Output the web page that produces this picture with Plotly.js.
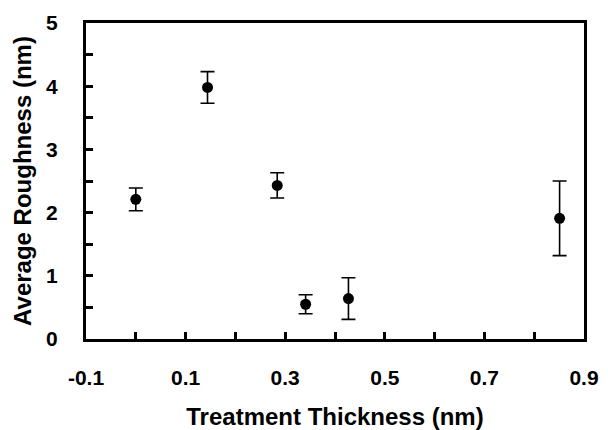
<!DOCTYPE html>
<html>
<head>
<meta charset="utf-8">
<script src="https://cdn.plot.ly/plotly-3.0.1.min.js"></script>
<style>html,body{margin:0;padding:0;background:#fff;}#chart{width:608px;height:430px;}</style>
</head>
<body>
<div id="chart"></div>
<script>
var thickness = [0.0, 0.144, 0.284, 0.341, 0.427, 0.851];
var roughness = [2.21, 3.98, 2.43, 0.55, 0.64, 1.91];
var errPlus = [0.18, 0.25, 0.20, 0.15, 0.33, 0.59];
var errMinus = [0.18, 0.25, 0.20, 0.15, 0.33, 0.59];

var xTickVals = [-0.1, 0.0, 0.1, 0.2, 0.3, 0.4, 0.5, 0.6, 0.7, 0.8, 0.9];
var xTickText = ['-0.1', '', '0.1', '', '0.3', '', '0.5', '', '0.7', '', '0.9'];
var yTickVals = [0, 0.5, 1, 1.5, 2, 2.5, 3, 3.5, 4, 4.5, 5];
var yTickText = ['0', '', '1', '', '2', '', '3', '', '4', '', '5'];

var FONT = 'Liberation Sans, Arial, sans-serif';
function bold(a) { return a.map(function (s) { return s ? '<b>' + s + '</b>' : ''; }); }

var trace = {
  x: thickness, y: roughness, type: 'scatter', mode: 'markers',
  marker: {color: '#000', size: 11},
  error_y: {type: 'data', array: errPlus, arrayminus: errMinus, visible: true,
            color: '#000', thickness: 1.6, width: 7},
  showlegend: false
};
var layout = {
  width: 608, height: 430,
  margin: {l: 86, r: 24, t: 23, b: 91},
  paper_bgcolor: '#fff', plot_bgcolor: '#fff',
  font: {family: FONT, color: '#000'},
  xaxis: {
    range: [-0.1, 0.9], tickmode: 'array', tickvals: xTickVals, ticktext: bold(xTickText),
    showgrid: false, zeroline: false, showline: true, linecolor: '#000', linewidth: 3, mirror: true,
    ticks: 'inside', ticklen: 7, tickwidth: 3, tickcolor: '#000', ticklabelstandoff: 18,
    tickfont: {family: FONT, size: 21, color: '#000', weight: 700},
    title: {text: '<b>Treatment Thickness (nm)</b>', font: {family: FONT, size: 24, color: '#000'}, standoff: 23}
  },
  yaxis: {
    range: [0, 5], tickmode: 'array', tickvals: yTickVals, ticktext: bold(yTickText),
    showgrid: false, zeroline: false, showline: true, linecolor: '#000', linewidth: 3, mirror: true,
    ticks: 'inside', ticklen: 7, tickwidth: 3, tickcolor: '#000', ticklabelstandoff: 21,
    tickfont: {family: FONT, size: 21, color: '#000', weight: 700},
    title: {text: '<b>Average Roughness (nm)</b>', font: {family: FONT, size: 24, color: '#000'}, standoff: 8}
  }
};
Plotly.newPlot('chart', [trace], layout, {displayModeBar: false, staticPlot: true});
</script>
</body>
</html>
